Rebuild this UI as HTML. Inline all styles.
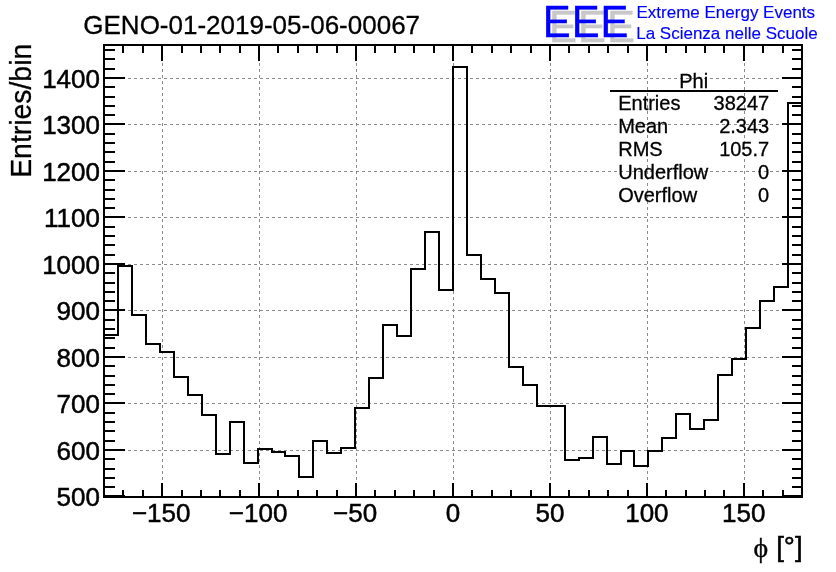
<!DOCTYPE html>
<html><head><meta charset="utf-8"><title>GENO-01-2019-05-06-00067</title>
<style>
html,body{margin:0;padding:0;background:#fff}
body{width:836px;height:572px;overflow:hidden}
svg{display:block}
text{font-family:"Liberation Sans",Arial,Helvetica,sans-serif;fill:#000;stroke:#000;stroke-width:0.5px}
.sym{font-family:"Liberation Serif","DejaVu Serif",serif}
.s text{stroke-width:0.3px}
.b{fill:#0000ff;stroke:#0000ff;stroke-width:0.15px}
</style></head><body>
<svg width="836" height="572" viewBox="0 0 836 572">
<rect width="836" height="572" fill="#fff"/>

<g stroke="#8c8c8c" stroke-width="1" stroke-dasharray="3 3" fill="none">
<line x1="162.5" y1="45.0" x2="162.5" y2="497.0"/>
<line x1="259.5" y1="45.0" x2="259.5" y2="497.0"/>
<line x1="356.5" y1="45.0" x2="356.5" y2="497.0"/>
<line x1="453.5" y1="45.0" x2="453.5" y2="497.0"/>
<line x1="550.5" y1="45.0" x2="550.5" y2="497.0"/>
<line x1="647.5" y1="45.0" x2="647.5" y2="497.0"/>
<line x1="744.5" y1="45.0" x2="744.5" y2="497.0"/>
<line x1="104.0" y1="450.5" x2="802.0" y2="450.5"/>
<line x1="104.0" y1="403.5" x2="802.0" y2="403.5"/>
<line x1="104.0" y1="357.5" x2="802.0" y2="357.5"/>
<line x1="104.0" y1="310.5" x2="802.0" y2="310.5"/>
<line x1="104.0" y1="264.5" x2="802.0" y2="264.5"/>
<line x1="104.0" y1="217.5" x2="802.0" y2="217.5"/>
<line x1="104.0" y1="171.5" x2="802.0" y2="171.5"/>
<line x1="104.0" y1="124.5" x2="802.0" y2="124.5"/>
<line x1="104.0" y1="78.5" x2="802.0" y2="78.5"/>
</g>
<path d="M104.00 497.00 V335 H118 V266 H132 V315 H146 V344 H160 V352 H174 V377 H188 V395 H202 V415 H216 V454 H230 V422 H244 V463 H258 V449 H272 V452 H285 V456 H299 V477 H313 V441 H327 V453 H341 V448 H355 V408 H369 V378 H383 V325 H397 V336 H411 V269 H425 V232 H439 V290 H453 V67 H467 V255 H481 V279 H495 V293 H509 V367 H523 V385 H537 V406 H551 V406 H565 V460 H579 V458 H593 V437 H607 V464 H621 V451 H634 V466 H648 V451 H662 V438 H676 V414 H690 V429 H704 V420 H718 V375 H732 V359 H746 V328 H760 V301 H774 V287 H788 V103 H802 V497.00" fill="none" stroke="#000" stroke-width="2" stroke-linejoin="miter"/>
<rect x="104.00" y="45.00" width="698.00" height="452.00" fill="none" stroke="#000" stroke-width="2"/>
<g stroke="#000" stroke-width="2" fill="none">
<line x1="123" y1="497" x2="123" y2="490"/>
<line x1="123" y1="45" x2="123" y2="53"/>
<line x1="143" y1="497" x2="143" y2="490"/>
<line x1="143" y1="45" x2="143" y2="53"/>
<line x1="162" y1="497" x2="162" y2="483"/>
<line x1="162" y1="45" x2="162" y2="61"/>
<line x1="182" y1="497" x2="182" y2="490"/>
<line x1="182" y1="45" x2="182" y2="53"/>
<line x1="201" y1="497" x2="201" y2="490"/>
<line x1="201" y1="45" x2="201" y2="53"/>
<line x1="220" y1="497" x2="220" y2="490"/>
<line x1="220" y1="45" x2="220" y2="53"/>
<line x1="240" y1="497" x2="240" y2="490"/>
<line x1="240" y1="45" x2="240" y2="53"/>
<line x1="259" y1="497" x2="259" y2="483"/>
<line x1="259" y1="45" x2="259" y2="61"/>
<line x1="278" y1="497" x2="278" y2="490"/>
<line x1="278" y1="45" x2="278" y2="53"/>
<line x1="298" y1="497" x2="298" y2="490"/>
<line x1="298" y1="45" x2="298" y2="53"/>
<line x1="317" y1="497" x2="317" y2="490"/>
<line x1="317" y1="45" x2="317" y2="53"/>
<line x1="337" y1="497" x2="337" y2="490"/>
<line x1="337" y1="45" x2="337" y2="53"/>
<line x1="356" y1="497" x2="356" y2="483"/>
<line x1="356" y1="45" x2="356" y2="61"/>
<line x1="375" y1="497" x2="375" y2="490"/>
<line x1="375" y1="45" x2="375" y2="53"/>
<line x1="395" y1="497" x2="395" y2="490"/>
<line x1="395" y1="45" x2="395" y2="53"/>
<line x1="414" y1="497" x2="414" y2="490"/>
<line x1="414" y1="45" x2="414" y2="53"/>
<line x1="434" y1="497" x2="434" y2="490"/>
<line x1="434" y1="45" x2="434" y2="53"/>
<line x1="453" y1="497" x2="453" y2="483"/>
<line x1="453" y1="45" x2="453" y2="61"/>
<line x1="472" y1="497" x2="472" y2="490"/>
<line x1="472" y1="45" x2="472" y2="53"/>
<line x1="492" y1="497" x2="492" y2="490"/>
<line x1="492" y1="45" x2="492" y2="53"/>
<line x1="511" y1="497" x2="511" y2="490"/>
<line x1="511" y1="45" x2="511" y2="53"/>
<line x1="531" y1="497" x2="531" y2="490"/>
<line x1="531" y1="45" x2="531" y2="53"/>
<line x1="550" y1="497" x2="550" y2="483"/>
<line x1="550" y1="45" x2="550" y2="61"/>
<line x1="569" y1="497" x2="569" y2="490"/>
<line x1="569" y1="45" x2="569" y2="53"/>
<line x1="589" y1="497" x2="589" y2="490"/>
<line x1="589" y1="45" x2="589" y2="53"/>
<line x1="608" y1="497" x2="608" y2="490"/>
<line x1="608" y1="45" x2="608" y2="53"/>
<line x1="628" y1="497" x2="628" y2="490"/>
<line x1="628" y1="45" x2="628" y2="53"/>
<line x1="647" y1="497" x2="647" y2="483"/>
<line x1="647" y1="45" x2="647" y2="61"/>
<line x1="666" y1="497" x2="666" y2="490"/>
<line x1="666" y1="45" x2="666" y2="53"/>
<line x1="686" y1="497" x2="686" y2="490"/>
<line x1="686" y1="45" x2="686" y2="53"/>
<line x1="705" y1="497" x2="705" y2="490"/>
<line x1="705" y1="45" x2="705" y2="53"/>
<line x1="724" y1="497" x2="724" y2="490"/>
<line x1="724" y1="45" x2="724" y2="53"/>
<line x1="744" y1="497" x2="744" y2="483"/>
<line x1="744" y1="45" x2="744" y2="61"/>
<line x1="763" y1="497" x2="763" y2="490"/>
<line x1="763" y1="45" x2="763" y2="53"/>
<line x1="783" y1="497" x2="783" y2="490"/>
<line x1="783" y1="45" x2="783" y2="53"/>
<line x1="104" y1="496" x2="125" y2="496"/>
<line x1="802" y1="496" x2="782" y2="496"/>
<line x1="104" y1="487" x2="115" y2="487"/>
<line x1="802" y1="487" x2="792" y2="487"/>
<line x1="104" y1="478" x2="115" y2="478"/>
<line x1="802" y1="478" x2="792" y2="478"/>
<line x1="104" y1="469" x2="115" y2="469"/>
<line x1="802" y1="469" x2="792" y2="469"/>
<line x1="104" y1="459" x2="115" y2="459"/>
<line x1="802" y1="459" x2="792" y2="459"/>
<line x1="104" y1="450" x2="125" y2="450"/>
<line x1="802" y1="450" x2="782" y2="450"/>
<line x1="104" y1="441" x2="115" y2="441"/>
<line x1="802" y1="441" x2="792" y2="441"/>
<line x1="104" y1="431" x2="115" y2="431"/>
<line x1="802" y1="431" x2="792" y2="431"/>
<line x1="104" y1="422" x2="115" y2="422"/>
<line x1="802" y1="422" x2="792" y2="422"/>
<line x1="104" y1="413" x2="115" y2="413"/>
<line x1="802" y1="413" x2="792" y2="413"/>
<line x1="104" y1="403" x2="125" y2="403"/>
<line x1="802" y1="403" x2="782" y2="403"/>
<line x1="104" y1="394" x2="115" y2="394"/>
<line x1="802" y1="394" x2="792" y2="394"/>
<line x1="104" y1="385" x2="115" y2="385"/>
<line x1="802" y1="385" x2="792" y2="385"/>
<line x1="104" y1="376" x2="115" y2="376"/>
<line x1="802" y1="376" x2="792" y2="376"/>
<line x1="104" y1="366" x2="115" y2="366"/>
<line x1="802" y1="366" x2="792" y2="366"/>
<line x1="104" y1="357" x2="125" y2="357"/>
<line x1="802" y1="357" x2="782" y2="357"/>
<line x1="104" y1="348" x2="115" y2="348"/>
<line x1="802" y1="348" x2="792" y2="348"/>
<line x1="104" y1="338" x2="115" y2="338"/>
<line x1="802" y1="338" x2="792" y2="338"/>
<line x1="104" y1="329" x2="115" y2="329"/>
<line x1="802" y1="329" x2="792" y2="329"/>
<line x1="104" y1="320" x2="115" y2="320"/>
<line x1="802" y1="320" x2="792" y2="320"/>
<line x1="104" y1="310" x2="125" y2="310"/>
<line x1="802" y1="310" x2="782" y2="310"/>
<line x1="104" y1="301" x2="115" y2="301"/>
<line x1="802" y1="301" x2="792" y2="301"/>
<line x1="104" y1="292" x2="115" y2="292"/>
<line x1="802" y1="292" x2="792" y2="292"/>
<line x1="104" y1="283" x2="115" y2="283"/>
<line x1="802" y1="283" x2="792" y2="283"/>
<line x1="104" y1="273" x2="115" y2="273"/>
<line x1="802" y1="273" x2="792" y2="273"/>
<line x1="104" y1="264" x2="125" y2="264"/>
<line x1="802" y1="264" x2="782" y2="264"/>
<line x1="104" y1="255" x2="115" y2="255"/>
<line x1="802" y1="255" x2="792" y2="255"/>
<line x1="104" y1="245" x2="115" y2="245"/>
<line x1="802" y1="245" x2="792" y2="245"/>
<line x1="104" y1="236" x2="115" y2="236"/>
<line x1="802" y1="236" x2="792" y2="236"/>
<line x1="104" y1="227" x2="115" y2="227"/>
<line x1="802" y1="227" x2="792" y2="227"/>
<line x1="104" y1="217" x2="125" y2="217"/>
<line x1="802" y1="217" x2="782" y2="217"/>
<line x1="104" y1="208" x2="115" y2="208"/>
<line x1="802" y1="208" x2="792" y2="208"/>
<line x1="104" y1="199" x2="115" y2="199"/>
<line x1="802" y1="199" x2="792" y2="199"/>
<line x1="104" y1="190" x2="115" y2="190"/>
<line x1="802" y1="190" x2="792" y2="190"/>
<line x1="104" y1="180" x2="115" y2="180"/>
<line x1="802" y1="180" x2="792" y2="180"/>
<line x1="104" y1="171" x2="125" y2="171"/>
<line x1="802" y1="171" x2="782" y2="171"/>
<line x1="104" y1="162" x2="115" y2="162"/>
<line x1="802" y1="162" x2="792" y2="162"/>
<line x1="104" y1="152" x2="115" y2="152"/>
<line x1="802" y1="152" x2="792" y2="152"/>
<line x1="104" y1="143" x2="115" y2="143"/>
<line x1="802" y1="143" x2="792" y2="143"/>
<line x1="104" y1="134" x2="115" y2="134"/>
<line x1="802" y1="134" x2="792" y2="134"/>
<line x1="104" y1="124" x2="125" y2="124"/>
<line x1="802" y1="124" x2="782" y2="124"/>
<line x1="104" y1="115" x2="115" y2="115"/>
<line x1="802" y1="115" x2="792" y2="115"/>
<line x1="104" y1="106" x2="115" y2="106"/>
<line x1="802" y1="106" x2="792" y2="106"/>
<line x1="104" y1="97" x2="115" y2="97"/>
<line x1="802" y1="97" x2="792" y2="97"/>
<line x1="104" y1="87" x2="115" y2="87"/>
<line x1="802" y1="87" x2="792" y2="87"/>
<line x1="104" y1="78" x2="125" y2="78"/>
<line x1="802" y1="78" x2="782" y2="78"/>
<line x1="104" y1="69" x2="115" y2="69"/>
<line x1="802" y1="69" x2="792" y2="69"/>
<line x1="104" y1="59" x2="115" y2="59"/>
<line x1="802" y1="59" x2="792" y2="59"/>
<line x1="104" y1="50" x2="115" y2="50"/>
<line x1="802" y1="50" x2="792" y2="50"/>
</g>
<g font-size="26" text-anchor="end">
<text x="100.0" y="506.3">500</text>
<text x="100.0" y="459.8">600</text>
<text x="100.0" y="413.3">700</text>
<text x="100.0" y="366.8">800</text>
<text x="100.0" y="320.3">900</text>
<text x="100.0" y="273.8">1000</text>
<text x="100.0" y="227.3">1100</text>
<text x="100.0" y="180.8">1200</text>
<text x="100.0" y="134.3">1300</text>
<text x="100.0" y="87.8">1400</text>
</g>
<g font-size="26" text-anchor="middle">
<text x="161.2" y="522.3">−150</text>
<text x="258.1" y="522.3">−100</text>
<text x="355.1" y="522.3">−50</text>
<text x="453.0" y="522.3">0</text>
<text x="549.9" y="522.3">50</text>
<text x="646.9" y="522.3">100</text>
<text x="743.8" y="522.3">150</text>
</g>
<text x="83.3" y="33.8" font-size="26" style="stroke-width:0.3px">GENO-01-2019-05-06-00067</text>
<text transform="translate(31.3,177.8) rotate(-90) scale(0.982,1)" font-size="28.9" style="stroke-width:0.3px">Entries/bin</text>
<text x="753.5" y="557.2" font-size="27.8" class="sym" style="stroke-width:0.4px">ϕ</text>
<text x="802.6" y="556.3" font-size="27.7" text-anchor="end">[°]</text>
<line x1="610" y1="91" x2="778" y2="91" stroke="#000" stroke-width="2"/>
<g font-size="20" class="s">
<text x="693.7" y="87.5" text-anchor="middle">Phi</text>
<text x="618.2" y="110.3">Entries</text><text x="769.2" y="110.3" text-anchor="end">38247</text>
<text x="618.2" y="133.1">Mean</text><text x="769.2" y="133.1" text-anchor="end">2.343</text>
<text x="618.2" y="155.9">RMS</text><text x="769.2" y="155.9" text-anchor="end">105.7</text>
<text x="618.2" y="178.7">Underflow</text><text x="769.2" y="178.7" text-anchor="end">0</text>
<text x="618.2" y="201.5">Overflow</text><text x="769.2" y="201.5" text-anchor="end">0</text>
</g>
<text transform="translate(549.1,42.0) scale(0.96,1)" font-size="43.6" letter-spacing="1.1" style="fill:#c8c8c8;stroke:#c8c8c8;stroke-width:0.4px">EEE</text>
<text transform="translate(542.7,37.0) scale(0.96,1)" font-size="43.6" letter-spacing="1.1" class="b" style="stroke-width:0.4px">EEE</text>
<text x="636.5" y="17.7" font-size="17" class="b">Extreme Energy Events</text>
<text x="636.2" y="38.7" font-size="17" class="b">La Scienza nelle Scuole</text>
</svg></body></html>
